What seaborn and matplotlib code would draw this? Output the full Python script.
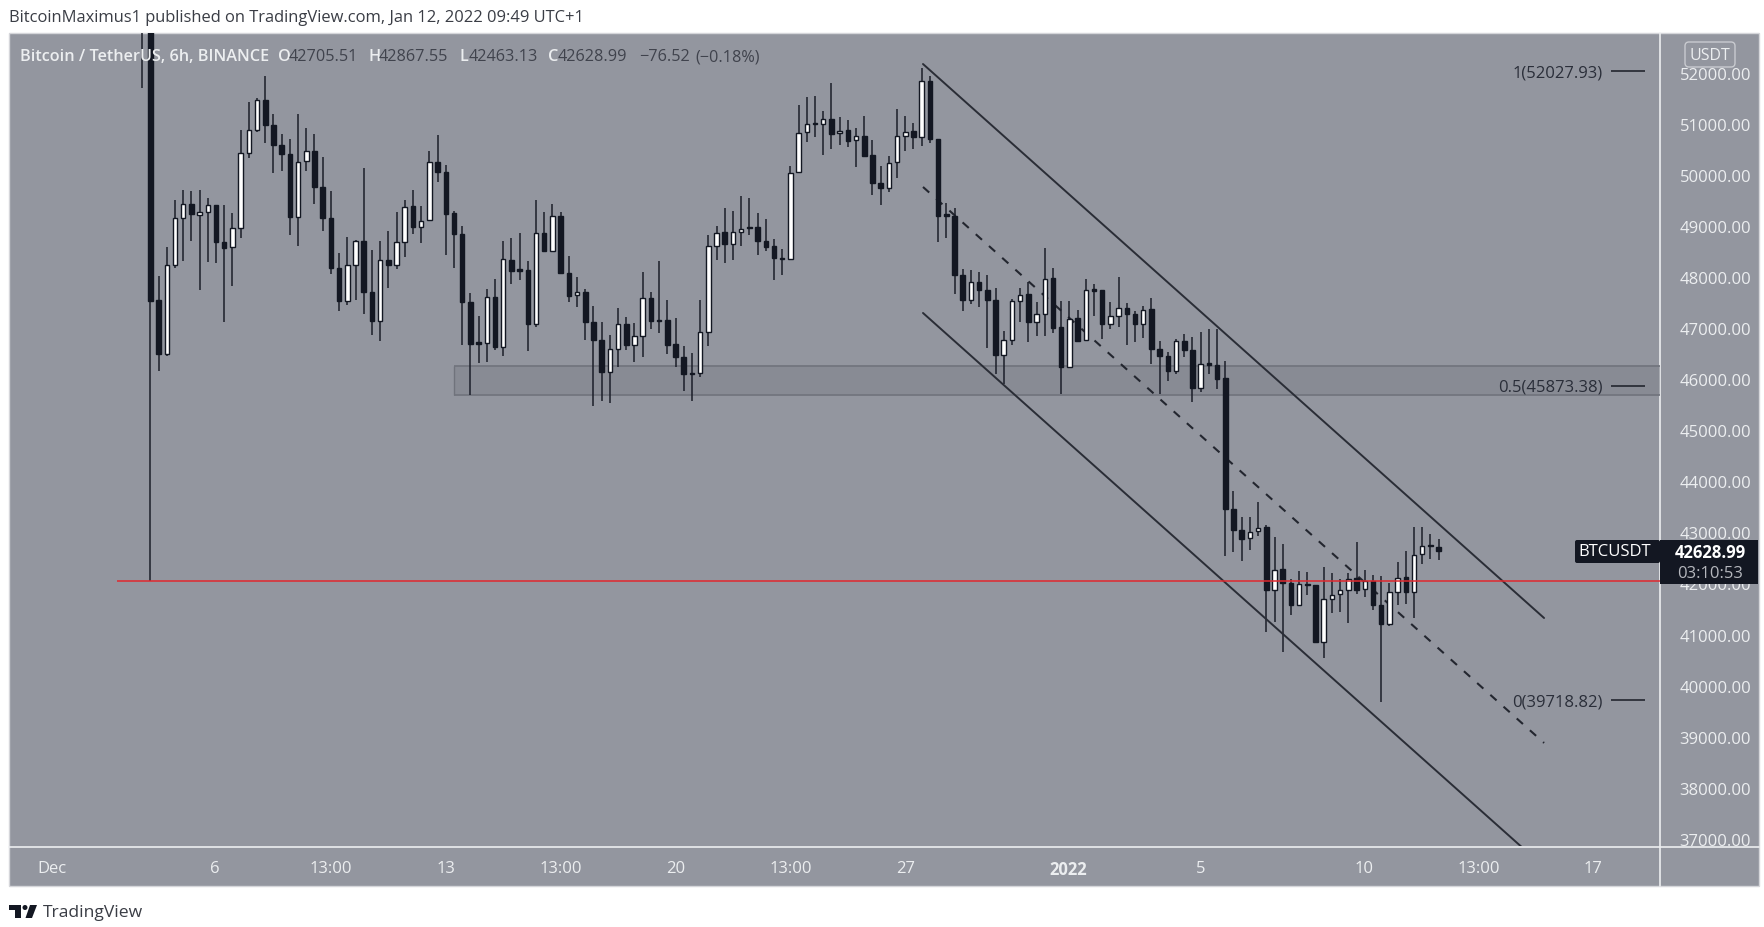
"""
BTC/USDT 6h chart, TradingView style
Generates out.png
"""

import numpy as np
import pandas as pd
import matplotlib
matplotlib.use("Agg")
import matplotlib.pyplot as plt
from matplotlib.patches import Rectangle, Circle, Polygon, FancyBboxPatch
import seaborn as sns

# ── Data ───────────────────────────────────────────────────────────────────────
opens = [
    54500, 54000, 47548, 46491, 48239, 49152, 49420, 49218, 49263, 49407,
    48689, 48578, 48950, 50431, 50868, 51455, 50979, 50581, 50405, 49172,
    50268, 50470, 49759, 49152, 48167, 47522, 48239, 48709, 47698, 47143,
    48324, 48239, 48683, 49381, 48970, 49107, 50242, 50046, 49244, 48839,
    47502, 46706, 46700, 47613, 46628, 48324, 48135, 48128, 47078, 48859,
    48500, 49198, 48083, 47639, 47698, 47124, 46772, 46133, 46589, 47072,
    46674, 46837, 47594, 47150, 47150, 46681, 46433, 46120, 46120, 46915,
    48598, 48872, 48637, 48885, 48970, 48977, 48709, 48598, 48350, 48350,
    50046, 50829, 51005, 50986, 51097, 50810, 50875, 50673, 50764, 50379,
    49844, 49733, 50242, 50757, 50855, 50738, 51827, 50699, 49212, 49198,
    48037, 47548, 47900, 47750, 47548, 46478, 46765, 47522, 47659, 47111,
    47274, 47972, 47013, 46230, 47189, 46765, 47750, 47737, 47079, 47235,
    47392, 47274, 47079, 47366, 46589, 46452, 46165, 46752, 46570, 45826,
    46296, 46283, 46015, 43458, 43054, 42884, 43021, 43106, 41880, 42277,
    42010, 41586, 41990, 41971, 40849, 41697, 41795, 41880, 42101, 41886,
    42049, 41586, 41208, 41827, 42121, 41827, 42578, 42741, 42705.51,
]
closes = [
    54000, 47535, 46491, 48239, 49152, 49420, 49237, 49263, 49400, 48683,
    48565, 48950, 50431, 50868, 51455, 50979, 50581, 50398, 49165, 50242,
    50470, 49752, 49146, 48167, 47535, 48239, 48709, 47698, 47143, 48324,
    48239, 48683, 49374, 48970, 49100, 50242, 50046, 49237, 48839, 47502,
    46693, 46693, 47613, 46628, 48350, 48122, 48122, 47078, 48859, 48500,
    49191, 48076, 47632, 47698, 47117, 46758, 46133, 46589, 47072, 46674,
    46837, 47594, 47144, 47137, 46674, 46426, 46094, 46100, 46915, 48598,
    48859, 48637, 48885, 48944, 48951, 48703, 48585, 48363, 48370, 50040,
    50823, 50999, 50986, 51084, 50803, 50862, 50666, 50751, 50373, 49838,
    49733, 50236, 50757, 50842, 50738, 51827, 50692, 49198, 49198, 48037,
    47542, 47900, 47744, 47548, 46478, 46765, 47522, 47653, 47111, 47274,
    47966, 47007, 46230, 47183, 46752, 47750, 47731, 47072, 47235, 47385,
    47274, 47079, 47359, 46583, 46452, 46165, 46746, 46570, 45826, 46296,
    46283, 46002, 43458, 43054, 42871, 43015, 43093, 41880, 42271, 42004,
    41586, 41984, 41971, 40849, 41697, 41775, 41873, 42088, 41880, 42043,
    41586, 41208, 41827, 42114, 41827, 42565, 42741, 42728, 42628.99,
]
highs = [
    55000, 54200, 48024, 48578, 49505, 49700, 49687, 49700, 49537, 49407,
    49407, 49250, 50881, 51416, 51494, 51925, 51188, 50790, 50698, 51188,
    50907, 50790, 50340, 49674, 48467, 48787, 48728, 50124, 48533, 48696,
    48891, 49263, 49505, 49700, 49381, 50470, 50777, 50190, 49296, 49002,
    47685, 47241, 47763, 47959, 48709, 48761, 48852, 48317, 49505, 49276,
    49426, 49263, 48402, 47991, 47763, 47437, 47124, 46863, 47392, 47209,
    47098, 48090, 47711, 48311, 47548, 47189, 46654, 46511, 47555, 48820,
    49003, 49342, 49290, 49583, 49538, 49251, 49133, 48735, 48546, 50164,
    51371, 51527, 51547, 51240, 51795, 51123, 51077, 50921, 51142, 50673,
    50164, 50373, 51279, 51142, 51012, 52088, 51925, 50699, 49440, 49355,
    48155, 48135, 48090, 48037, 47776, 46948, 47568, 47776, 47894, 47503,
    48559, 48174, 47535, 47535, 47352, 47959, 47861, 47737, 47503, 47992,
    47483, 47339, 47437, 47581, 46752, 46537, 46785, 46883, 46818, 46915,
    46981, 46981, 46361, 43817, 43295, 43295, 43602, 43145, 42904, 42773,
    42088, 42252, 42219, 41971, 42330, 42199, 42088, 42199, 42806, 42265,
    42167, 42154, 42004, 42415, 42643, 43113, 43113, 42969, 42867.55,
]
lows = [
    51690, 42050, 46152, 46458, 48167, 48317, 48696, 47743, 48285, 48272,
    47124, 47828, 48768, 50333, 50829, 50620, 50040, 50079, 48826, 48611,
    50066, 49433, 48905, 48057, 47339, 47456, 47554, 47274, 46869, 46752,
    47783, 48154, 48383, 48839, 48657, 49094, 49863, 48428, 48167, 46673,
    45695, 46308, 46341, 46576, 46445, 47854, 47939, 46556, 47026, 48480,
    48480, 48057, 47515, 47404, 46758, 45480, 45578, 45533, 46230, 46570,
    46341, 46426, 46981, 46896, 46491, 46243, 45774, 45578, 46035, 46641,
    48337, 48272, 48337, 48611, 48827, 48435, 48514, 47946, 48044, 48337,
    50033, 50634, 50731, 50392, 50503, 50581, 50549, 50144, 50353, 49609,
    49414, 49655, 49929, 50457, 50503, 50568, 50621, 48677, 48761, 47665,
    47339, 47470, 47405, 46602, 46100, 45904, 46674, 47111, 46733, 46850,
    46850, 46902, 45709, 46217, 46733, 46752, 47242, 46785, 46981, 47026,
    46674, 46733, 46804, 46296, 45709, 45957, 46100, 46426, 45546, 45741,
    46100, 45807, 42545, 42610, 42447, 42656, 42936, 41045, 41241, 40653,
    41384, 41573, 41775, 40836, 40536, 41423, 41436, 41221, 41795, 41730,
    41488, 39688, 41162, 41586, 41599, 41319, 42382, 42480, 42463.13,
]

price_ticks = [37000, 38000, 39000, 40000, 41000, 42000, 43000, 44000,
               45000, 46000, 47000, 48000, 49000, 50000, 51000, 52000]
time_ticks = [-11, 8.9, 23, 37, 51, 65, 79, 93.1, 112.9, 129, 148.9, 162.9, 176.8]
time_labels = ["Dec", "6", "13:00", "13", "13:00", "20", "13:00", "27",
               "2022", "5", "10", "13:00", "17"]

# trend channel: start and end of each line (bar index, price)
channel_x = [95.16, 170.85]
channel_upper = [52166, 41325]
channel_mid = [49760, 38880]
channel_lower = [47294, 36453]

support_low = 45695
support_high = 46250
support_start = 38
red_level = 42043
red_start = -3.1

fib_levels = [52027.93, 45873.38, 39718.82]
fib_labels = ["1(52027.93)", "0.5(45873.38)", "0(39718.82)"]

# ── Setup ──────────────────────────────────────────────────────────────────────
PANEL = "#93969f"
DARK = "#131722"
LIGHT = "#eceef0"
W, H = 1765, 928
X_RIGHT = 184.98

sns.set_theme(style="white")
plt.rcParams["font.family"] = ["Open Sans", "DejaVu Sans"]


def rect(x0, y0, x1, y1):
    # pixel box (from top-left) → figure fraction
    return [x0 / W, 1 - y1 / H, (x1 - x0) / W, (y1 - y0) / H]


fig = plt.figure(figsize=(W / 100, H / 100), dpi=100, facecolor="white")

# Pixel-space layer for page furniture
page = fig.add_axes([0, 0, 1, 1], zorder=0)
page.set_xlim(0, W)
page.set_ylim(H, 0)
page.axis("off")
page.add_patch(Rectangle((9, 34), 1750, 853, fc=PANEL, ec="#d5d6da", lw=1))
page.plot([9, 1759], [847.5, 847.5], color=LIGHT, lw=1.2)
page.plot([1660.5, 1660.5], [34, 887], color=LIGHT, lw=1.2)

# ── Price panel ────────────────────────────────────────────────────────────────
ax = fig.add_axes(rect(9, 34, 1660, 847), zorder=1)
ax.patch.set_alpha(0)
for s in ax.spines.values():
    s.set_visible(False)

bars = pd.DataFrame({"open": opens, "close": closes, "high": highs, "low": lows})
bars["idx"] = np.arange(len(bars))
bars["top"] = bars[["open", "close"]].max(axis=1)
bars["bot"] = bars[["open", "close"]].min(axis=1)
bars["up"] = bars["close"] >= bars["open"]

# Support zone
ax.fill_between([support_start, X_RIGHT], support_low, support_high,
                color="#7f828b", alpha=0.55, lw=0, zorder=1)
ax.hlines([support_low, support_high], support_start, X_RIGHT,
          color="#70737c", lw=1.2, zorder=1.5)
ax.vlines(support_start, support_low, support_high, color="#70737c", lw=1, zorder=1.5)

# Candles
ax.vlines(bars["idx"], bars["low"], bars["high"], color="#1b1e29", lw=1.1, zorder=3)
ax.bar(bars["idx"], np.maximum(bars["top"] - bars["bot"], 25), bottom=bars["bot"],
       width=0.55, color=np.where(bars["up"], "white", DARK),
       edgecolor=DARK, linewidth=1.0, zorder=4)

# Channel
for y_vals in [channel_upper, channel_lower]:
    sns.lineplot(x=channel_x, y=y_vals, ax=ax, color="#2a2d36", lw=1.4,
                 estimator=None, legend=False, zorder=5)
sns.lineplot(x=channel_x, y=channel_mid, ax=ax, color="#23262f", lw=1.5,
             estimator=None, legend=False, zorder=2,
             dashes=False, linestyle=(0, (4, 4.5)))

# Horizontal red level
ax.hlines(red_level, red_start, X_RIGHT, color="#e0282e", lw=1.1, zorder=6)

# Fib levels
for lvl, lab in zip(fib_levels, fib_labels):
    ax.hlines(lvl, 179.0, 183.1, color="#23262f", lw=1.2, zorder=5)
    ax.text(178.0, lvl - 25, lab, ha="right", va="center", fontsize=12,
            color="#2a2e39", zorder=7)

ax.set_xlim(-16.23, X_RIGHT)
ax.set_ylim(36863, 52773)
ax.set_xticks(time_ticks)
ax.set_xticklabels(time_labels)
ax.yaxis.tick_right()
ax.set_yticks(price_ticks)
ax.set_yticklabels([f"{p:.2f}" for p in price_ticks])
ax.tick_params(axis="y", length=0, pad=14, labelsize=12, labelcolor=LIGHT)
ax.tick_params(axis="x", length=0, pad=10, labelsize=12, labelcolor=LIGHT)
ax.get_xticklabels()[8].set_fontweight("bold")

# ── Header, legend line ────────────────────────────────────────────────────────
page.text(9, 18.5, "BitcoinMaximus1 published on TradingView.com, Jan 12, 2022 09:49 UTC+1",
          fontsize=11.85, color="#3a3d45", va="center", zorder=2)

legend_parts = [
    (20, "Bitcoin / TetherUS, 6h, BINANCE", LIGHT),
    (278, "O", LIGHT), (289, "42705.51", "#40434d"),
    (369, "H", LIGHT), (379, "42867.55", "#40434d"),
    (460, "L", LIGHT), (469, "42463.13", "#40434d"),
    (548, "C", LIGHT), (558, "42628.99", "#40434d"),
    (639, "\u221276.52", "#40434d"),
    (695, "(\u22120.18%)", "#40434d"),
]
overlay = fig.add_axes([0, 0, 1, 1], zorder=3)
overlay.set_xlim(0, W)
overlay.set_ylim(H, 0)
overlay.axis("off")
overlay.patch.set_alpha(0)
for x, txt, col in legend_parts:
    fw = "semibold" if col == LIGHT else "normal"
    overlay.text(x, 57, txt, fontsize=11.7, color=col, va="center", fontweight=fw)

# USDT badge
overlay.add_patch(FancyBboxPatch((1687, 45), 46, 21, boxstyle="round,pad=2,rounding_size=4",
                                 fc=PANEL, ec="#c9cbd0", lw=1))
overlay.text(1710, 55.5, "USDT", fontsize=11.5, color=LIGHT, ha="center", va="center")

# Last price tags
overlay.add_patch(FancyBboxPatch((1577, 543), 81, 19, boxstyle="round,pad=2,rounding_size=2",
                                 fc=DARK, ec="none"))
overlay.add_patch(Rectangle((1660, 541), 98, 44, fc=DARK, ec="none"))
overlay.text(1615, 552.5, "BTCUSDT", fontsize=12, color="white", ha="center", va="center",
             fontweight="medium")
overlay.text(1710, 553, "42628.99", fontsize=12, color="white", ha="center", va="center",
             fontweight="bold")
overlay.text(1710, 574, "03:10:53", fontsize=12, color="#b5b7bd", ha="center", va="center")

# TradingView logo
overlay.add_patch(Rectangle((9, 906), 12, 5, fc=DARK, ec="none"))
overlay.add_patch(Rectangle((15, 906), 6, 13, fc=DARK, ec="none"))
overlay.add_patch(Circle((25, 908.5), 2.5, fc=DARK, ec="none"))
overlay.add_patch(Polygon([(30, 906), (37, 906), (32, 919), (25.5, 919)], fc=DARK, ec="none"))
overlay.text(43, 913, "TradingView", fontsize=12.6, color="#3a3d45", va="center")

fig.savefig("out.png", dpi=100, facecolor="white")
plt.close(fig)
